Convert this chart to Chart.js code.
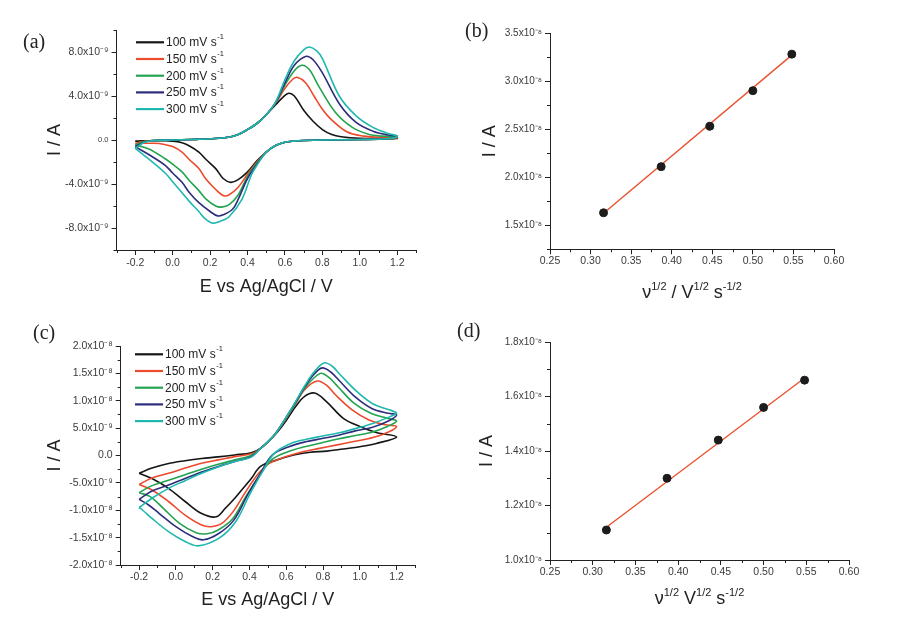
<!DOCTYPE html>
<html>
<head>
<meta charset="utf-8">
<script src="https://cdn.jsdelivr.net/npm/chart.js@4.4.1/dist/chart.umd.min.js"></script>
<style>
  body { margin: 0; background: #fff; }
  #wrap { position: relative; width: 908px; height: 622px; overflow: hidden; }
  canvas { position: absolute; }
  .plabel { position: absolute; font: 20px "Liberation Serif", "Times New Roman", serif; color: #222; line-height: 1; }
  .xtitle { position: absolute; font: 18px "Liberation Sans", Arial, sans-serif; color: #222; text-align: center; line-height: 22px; white-space: nowrap; }
  .xtitle sup { font-size: 11px; vertical-align: baseline; position: relative; top: -0.75em; }
</style>
</head>
<body>
<div id="wrap">
  <canvas id="cvA" width="454" height="311" style="left:0;top:0"></canvas>
  <canvas id="cvB" width="454" height="311" style="left:454px;top:0"></canvas>
  <canvas id="cvC" width="454" height="311" style="left:0;top:311px"></canvas>
  <canvas id="cvD" width="454" height="311" style="left:454px;top:311px"></canvas>
  <div class="plabel" style="left:23px;top:31px">(a)</div>
  <div class="plabel" style="left:465px;top:20px">(b)</div>
  <div class="plabel" style="left:33px;top:322px">(c)</div>
  <div class="plabel" style="left:457px;top:320px">(d)</div>
  <div class="xtitle" style="left:550px;width:284px;top:281px">&nu;<sup>1/2</sup> / V<sup>1/2</sup> s<sup>-1/2</sup></div>
  <div class="xtitle" style="left:550px;width:299px;top:587px">&nu;<sup>1/2</sup> V<sup>1/2</sup> s<sup>-1/2</sup></div>
</div>
<script>
// scan rates (legend)
const rates = ['100', '150', '200', '250', '300'];
const rateColors = ['#151515', '#ec4a2c', '#23a34f', '#2d2d7c', '#1fb8ae'];

// ---- panel (a): CV, potential in V, current in 1e-9 A ----
const aE100 = [-0.2,-0.15,-0.1,0.0,0.1,0.2,0.3,0.35,0.4,0.45,0.5,0.55,0.59,0.62,0.65,0.7,0.75,0.8,0.85,0.9,1.0,1.1,1.2, 1.15,1.0,0.8,0.7,0.65,0.6,0.55,0.5,0.45,0.4,0.35,0.31,0.27,0.23,0.18,0.14,0.09,0.05,0.0,-0.1,-0.2];
const aI100 = [-0.1,-0.08,-0.05,0.0,0.05,0.12,0.25,0.5,0.95,1.5,2.3,3.2,3.9,4.25,4.0,2.7,1.7,0.95,0.5,0.3,0.15,0.15,0.15, 0.1,0.05,0.0,-0.05,-0.1,-0.2,-0.5,-1.1,-1.9,-2.9,-3.6,-3.85,-3.5,-2.6,-1.8,-1.1,-0.55,-0.25,-0.1,-0.05,-0.1];
const aE150 = [-0.2,-0.15,-0.1,0.0,0.1,0.2,0.3,0.35,0.4,0.45,0.5,0.55,0.6,0.64,0.665,0.71,0.755,0.8,0.845,0.93,1.02,1.1,1.2, 1.15,1.0,0.8,0.7,0.65,0.6,0.55,0.5,0.45,0.4,0.35,0.3,0.27,0.23,0.18,0.14,0.09,0.05,0.0,-0.05,-0.1,-0.2];
const aI150 = [-0.3,-0.12,-0.05,0.0,0.05,0.12,0.25,0.5,0.95,1.5,2.3,3.35,4.7,5.5,5.7,5.2,4.0,2.8,1.9,0.75,0.35,0.25,0.2, 0.12,0.05,0.0,-0.05,-0.1,-0.2,-0.5,-1.1,-2.0,-3.1,-4.3,-5.0,-5.05,-4.5,-3.6,-2.6,-1.8,-1.1,-0.6,-0.38,-0.3,-0.3];
const aE200 = [-0.2,-0.15,-0.1,0.0,0.1,0.2,0.3,0.35,0.4,0.45,0.5,0.55,0.6,0.65,0.69,0.73,0.78,0.87,0.96,1.05,1.12,1.2, 1.15,1.0,0.8,0.7,0.65,0.6,0.55,0.5,0.45,0.4,0.35,0.3,0.26,0.23,0.18,0.14,0.09,0.05,0.0,-0.04,-0.13,-0.2];
const aI200 = [-0.45,-0.15,-0.05,0.0,0.05,0.12,0.25,0.5,0.95,1.5,2.3,3.4,5.0,6.3,6.8,6.4,4.9,2.5,1.15,0.5,0.35,0.25, 0.12,0.05,0.0,-0.05,-0.1,-0.2,-0.5,-1.1,-2.1,-3.3,-5.0,-5.9,-6.1,-6.0,-5.4,-4.6,-3.7,-2.9,-2.2,-1.7,-0.8,-0.45];
const aE250 = [-0.2,-0.15,-0.1,0.0,0.1,0.2,0.3,0.35,0.4,0.45,0.5,0.55,0.6,0.65,0.71,0.75,0.8,0.89,0.98,1.07,1.15,1.2, 1.15,1.0,0.8,0.7,0.65,0.6,0.55,0.5,0.45,0.4,0.35,0.32,0.27,0.24,0.2,0.14,0.09,0.05,0.0,-0.04,-0.13,-0.2];
const aI250 = [-0.6,-0.18,-0.05,0.0,0.05,0.12,0.25,0.5,0.95,1.5,2.3,3.4,5.2,6.8,7.6,7.3,6.1,3.3,1.6,0.8,0.45,0.35, 0.12,0.05,0.0,-0.05,-0.1,-0.2,-0.5,-1.1,-2.2,-3.5,-5.4,-6.3,-6.8,-6.9,-6.5,-5.7,-4.8,-3.85,-3.0,-2.3,-1.3,-0.6];
const aE300 = [-0.2,-0.15,-0.1,0.0,0.1,0.2,0.3,0.35,0.4,0.45,0.5,0.55,0.6,0.65,0.7,0.73,0.77,0.8,0.89,0.98,1.07,1.15,1.2, 1.15,1.0,0.8,0.7,0.65,0.6,0.55,0.5,0.45,0.42,0.37,0.3,0.25,0.21,0.17,0.14,0.09,0.05,0.0,-0.04,-0.13,-0.2];
const aI300 = [-0.75,-0.2,-0.05,0.0,0.05,0.12,0.25,0.5,0.95,1.5,2.3,3.45,5.5,7.2,8.2,8.45,8.1,7.4,4.0,2.2,1.15,0.6,0.35, 0.12,0.05,0.0,-0.05,-0.1,-0.2,-0.5,-1.1,-2.3,-3.2,-5.4,-7.0,-7.4,-7.55,-7.1,-6.5,-5.6,-4.8,-3.8,-3.0,-1.7,-0.75];

const aXTicks = [-0.2, 0.0, 0.2, 0.4, 0.6, 0.8, 1.0, 1.2];
const aXLabels = ['-0.2', '0.0', '0.2', '0.4', '0.6', '0.8', '1.0', '1.2'];
const aXMinor = [-0.3, -0.1, 0.1, 0.3, 0.5, 0.7, 0.9, 1.1, 1.3];
const aYTicks = [-8, -4, 0, 4, 8];
const aYLabels = ['-8.0x10⁻⁹', '-4.0x10⁻⁹', '0.0', '4.0x10⁻⁹', '8.0x10⁻⁹'];
const aYMinor = [-10, -6, -2, 2, 6, 10];

// ---- panel (b): peak current vs sqrt(scan rate), current in 1e-8 A ----
const bX = [0.316, 0.387, 0.447, 0.500, 0.548];
const bY = [1.63, 2.11, 2.53, 2.90, 3.28];
const bFitX = [0.316, 0.548];
const bFitY = [1.625, 3.27];
const bXTicks = [0.25, 0.30, 0.35, 0.40, 0.45, 0.50, 0.55, 0.60];
const bXLabels = ['0.25', '0.30', '0.35', '0.40', '0.45', '0.50', '0.55', '0.60'];
const bXMinor = [0.275, 0.325, 0.375, 0.425, 0.475, 0.525, 0.575];
const bYTicks = [1.5, 2.0, 2.5, 3.0, 3.5];
const bYLabels = ['1.5x10⁻⁸', '2.0x10⁻⁸', '2.5x10⁻⁸', '3.0x10⁻⁸', '3.5x10⁻⁸'];
const bYMinor = [1.25, 1.75, 2.25, 2.75, 3.25];

// ---- panel (c): CV, current in 1e-9 A ----
const cE100 = [-0.2,-0.13,-0.04,0.05,0.14,0.23,0.32,0.41,0.46,0.51,0.55,0.6,0.65,0.7,0.755,0.82,0.91,1.0,1.09,1.2, 1.09,1.0,0.91,0.82,0.73,0.64,0.55,0.46,0.41,0.36,0.32,0.27,0.22,0.14,0.05,-0.04,-0.13,-0.2];
const cI100 = [-3.25,-2.3,-1.45,-0.95,-0.55,-0.25,0.1,0.5,1.3,2.8,4.2,6.4,8.9,10.8,11.4,9.8,6.8,5.3,4.2,3.4, 2.2,1.6,1.2,0.8,0.6,0.1,-0.8,-2.0,-4.2,-6.2,-7.8,-9.6,-11.2,-10.6,-8.4,-6.0,-4.2,-3.25];
const cE150 = [-0.2,-0.13,-0.04,0.05,0.14,0.23,0.32,0.41,0.46,0.51,0.55,0.6,0.65,0.7,0.767,0.82,0.87,0.96,1.05,1.14,1.2, 1.14,1.05,0.96,0.87,0.78,0.69,0.6,0.51,0.45,0.38,0.31,0.25,0.19,0.14,0.05,-0.04,-0.13,-0.2];
const cI150 = [-5.3,-4.1,-3.25,-2.3,-1.4,-0.8,-0.2,0.3,1.3,2.8,4.4,6.8,9.4,12.0,13.6,12.8,11.0,8.3,6.5,5.6,5.3, 4.05,3.1,2.5,1.9,1.3,0.7,-0.2,-1.4,-3.25,-6.6,-10.3,-12.4,-13.0,-12.7,-10.9,-8.4,-6.3,-5.3];
const cE200 = [-0.2,-0.13,-0.04,0.05,0.14,0.23,0.32,0.41,0.46,0.51,0.55,0.6,0.65,0.7,0.785,0.83,0.88,0.97,1.06,1.15,1.2, 1.15,1.06,0.97,0.88,0.79,0.7,0.61,0.52,0.45,0.38,0.31,0.23,0.17,0.11,0.02,-0.07,-0.14,-0.2];
const cI200 = [-6.8,-5.5,-4.5,-3.5,-2.5,-1.6,-0.8,0.0,1.3,2.8,4.4,6.9,9.5,12.3,15.0,14.3,12.6,9.5,7.7,6.8,6.3, 5.3,4.2,3.6,3.0,2.3,1.6,0.7,-0.8,-3.9,-7.5,-11.5,-13.6,-14.3,-14.1,-12.4,-9.6,-7.5,-6.8];
const cE250 = [-0.2,-0.13,-0.04,0.05,0.14,0.23,0.32,0.41,0.46,0.51,0.55,0.6,0.65,0.7,0.75,0.795,0.84,0.885,0.975,1.065,1.155,1.2, 1.155,1.065,0.975,0.885,0.795,0.705,0.615,0.525,0.46,0.39,0.315,0.235,0.15,0.09,0.0,-0.09,-0.15,-0.2];
const cI250 = [-8.0,-6.5,-5.4,-4.2,-3.0,-2.0,-1.1,-0.2,1.3,2.8,4.4,7.0,9.7,12.5,14.8,16.0,15.3,13.8,10.7,8.6,7.7,7.4, 6.3,5.1,4.5,3.7,3.1,2.5,1.6,0.1,-3.25,-7.2,-11.8,-14.2,-15.4,-14.8,-13.0,-10.6,-9.0,-8.0];
const cE300 = [-0.2,-0.13,-0.04,0.05,0.14,0.23,0.32,0.41,0.46,0.51,0.55,0.6,0.65,0.7,0.75,0.805,0.85,0.895,0.985,1.075,1.165,1.2, 1.165,1.075,0.985,0.895,0.805,0.715,0.625,0.535,0.47,0.4,0.325,0.235,0.12,0.05,-0.04,-0.13,-0.18,-0.2];
const cI300 = [-9.5,-7.8,-6.0,-4.6,-3.25,-2.1,-1.1,-0.3,1.3,2.8,4.4,7.0,9.8,12.7,15.2,16.9,16.3,14.7,11.65,9.35,8.3,7.7, 7.1,5.9,5.0,4.2,3.6,3.0,2.2,0.4,-3.0,-7.2,-12.1,-15.1,-16.5,-15.7,-13.9,-11.5,-10.0,-9.5];

const cYTicks = [-20, -15, -10, -5, 0, 5, 10, 15, 20];
const cYLabels = ['-2.0x10⁻⁸', '-1.5x10⁻⁸', '-1.0x10⁻⁸', '-5.0x10⁻⁹', '0.0', '5.0x10⁻⁹', '1.0x10⁻⁸', '1.5x10⁻⁸', '2.0x10⁻⁸'];
const cYMinor = [-17.5, -12.5, -7.5, -2.5, 2.5, 7.5, 12.5, 17.5];

// ---- panel (d): current in 1e-8 A ----
const dX = [0.316, 0.387, 0.447, 0.500, 0.548];
const dY = [1.11, 1.30, 1.44, 1.56, 1.66];
const dFitX = [0.316, 0.548];
const dFitY = [1.12, 1.668];
const dYTicks = [1.0, 1.2, 1.4, 1.6, 1.8];
const dYLabels = ['1.0x10⁻⁸', '1.2x10⁻⁸', '1.4x10⁻⁸', '1.6x10⁻⁸', '1.8x10⁻⁸'];
const dYMinor = [1.1, 1.3, 1.5, 1.7];

const FONT = '"Liberation Sans", Arial, Helvetica, sans-serif';
const AXIS = '#222';
const TICKTXT = '#3a3a3a';

function pts(xs, ys) {
    return xs.map((x, i) => ({ x: x, y: ys[i] }));
}

// short minor tick marks on both axes
const minorTicks = {
    id: 'minorTicks',
    afterDraw(chart, args, opts) {
        const ctx = chart.ctx;
        const xs = chart.scales.x, ys = chart.scales.y;
        const area = chart.chartArea;
        ctx.save();
        ctx.strokeStyle = AXIS;
        ctx.lineWidth = 1;
        ctx.beginPath();
        (opts.x || []).forEach(v => {
            let px = Math.round(xs.getPixelForValue(v)) + 0.5;
            ctx.moveTo(px, area.bottom);
            ctx.lineTo(px, area.bottom + 3);
        });
        (opts.y || []).forEach(v => {
            let py = Math.round(ys.getPixelForValue(v)) + 0.5;
            ctx.moveTo(area.left, py);
            ctx.lineTo(area.left - 3, py);
        });
        ctx.stroke();
        ctx.restore();
    }
};

// legend drawn inside the plot, with a superscript -1
const rateLegend = {
    id: 'rateLegend',
    afterDatasetsDraw(chart, args, opts) {
        if (!opts.show) return;
        const ctx = chart.ctx;
        const area = chart.chartArea;
        ctx.save();
        ctx.textBaseline = 'middle';
        chart.data.datasets.forEach((ds, i) => {
            let x0 = area.left + opts.left;
            let y = area.top + opts.top + i * opts.gap;
            ctx.strokeStyle = ds.borderColor;
            ctx.lineWidth = 2.2;
            ctx.beginPath();
            ctx.moveTo(x0, y);
            ctx.lineTo(x0 + 28, y);
            ctx.stroke();
            ctx.fillStyle = '#222';
            ctx.font = '12px ' + FONT;
            ctx.fillText(ds.label, x0 + 30, y + 0.5);
            let w = ctx.measureText(ds.label).width;
            ctx.font = '7.5px ' + FONT;
            ctx.fillText('-1', x0 + 30 + w + 0.5, y - 5);
        });
        ctx.restore();
    }
};

function axis(opts) {
    return {
        type: 'linear',
        min: opts.min,
        max: opts.max,
        afterBuildTicks: (scale) => { scale.ticks = opts.ticks.map(v => ({ value: v })); },
        afterFit: (scale) => {
            if (opts.width) scale.width = opts.width;
            if (opts.height) scale.height = opts.height;
            scale.paddingLeft = 0; scale.paddingRight = 0;
            scale.paddingTop = 0; scale.paddingBottom = 0;
        },
        grid: { display: true, drawOnChartArea: false, drawTicks: true, tickLength: 5, color: AXIS, tickColor: AXIS },
        border: { display: true, color: AXIS, width: 1 },
        ticks: {
            autoSkip: false,
            maxRotation: 0,
            padding: opts.pad,
            color: TICKTXT,
            font: opts.font || { size: 10.5, family: FONT },
            callback: (value, index) => opts.labels[index]
        },
        title: opts.title ? {
            display: true,
            text: opts.title,
            color: AXIS,
            font: { size: 18, family: FONT },
            padding: opts.titlePad
        } : { display: false }
    };
}

function cvChart(id, E, I, cfg) {
    const datasets = rates.map((r, i) => ({
        label: r + ' mV s',
        data: pts(E[i], I[i]),
        showLine: true,
        borderColor: rateColors[i],
        backgroundColor: rateColors[i],
        borderWidth: 1.6,
        pointRadius: 0,
        tension: 0.35,
        order: 5 - i
    }));
    return new Chart(document.getElementById(id), {
        type: 'scatter',
        data: { datasets: datasets },
        options: {
            responsive: false,
            animation: false,
            devicePixelRatio: 1,
            layout: { padding: cfg.padding },
            plugins: {
                legend: { display: false },
                tooltip: { enabled: false },
                minorTicks: { x: aXMinor, y: cfg.yMinor },
                rateLegend: { show: true, left: cfg.legLeft, top: cfg.legTop, gap: 16.7 }
            },
            scales: {
                x: axis({ min: -0.3, max: 1.3, ticks: aXTicks, labels: aXLabels, pad: cfg.xPad,
                          height: cfg.xH, title: 'E vs Ag/AgCl / V', titlePad: { top: 0, bottom: cfg.xTitlePad } }),
                y: axis({ min: cfg.yMin, max: cfg.yMax, ticks: cfg.yTicks, labels: cfg.yLabels, pad: 3,
                          width: cfg.yW, title: 'I / A', titlePad: { top: cfg.yTitlePad, bottom: 0 },
                          font: cfg.yFont })
            }
        },
        plugins: [minorTicks, rateLegend]
    });
}

function fitChart(id, X, Y, FX, FY, cfg) {
    return new Chart(document.getElementById(id), {
        type: 'scatter',
        data: {
            datasets: [{
                label: 'points',
                data: pts(X, Y),
                pointRadius: 4,
                pointBackgroundColor: '#1c1c1c',
                pointBorderColor: '#1c1c1c',
                order: 0
            }, {
                label: 'fit',
                data: pts(FX, FY),
                showLine: true,
                borderColor: '#e9532f',
                borderWidth: 1.4,
                pointRadius: 0,
                order: 1
            }]
        },
        options: {
            responsive: false,
            animation: false,
            devicePixelRatio: 1,
            layout: { padding: cfg.padding },
            plugins: {
                legend: { display: false },
                tooltip: { enabled: false },
                minorTicks: { x: bXMinor, y: cfg.yMinor },
                rateLegend: { show: false }
            },
            scales: {
                x: axis({ min: 0.25, max: 0.60, ticks: bXTicks, labels: bXLabels, pad: cfg.xPad, height: cfg.xH }),
                y: axis({ min: cfg.yMin, max: cfg.yMax, ticks: cfg.yTicks, labels: cfg.yLabels, pad: 3,
                          width: cfg.yW, title: 'I / A', titlePad: { top: cfg.yTitlePad, bottom: 0 },
                          font: { size: 10, family: FONT } })
            }
        },
        plugins: [minorTicks, rateLegend]
    });
}

cvChart('cvA', [aE100, aE150, aE200, aE250, aE300], [aI100, aI150, aI200, aI250, aI300], {
    padding: { top: 30, right: 38, left: 0, bottom: 0 },
    yW: 116.5, xH: 61, xPad: 2, xTitlePad: 13, yTitlePad: 44,
    yMin: -10, yMax: 10, yTicks: aYTicks, yLabels: aYLabels, yMinor: aYMinor,
    yFont: (ctx) => ({ size: (ctx.tick && ctx.tick.value === 0) ? 7.5 : 10.5, family: FONT }),
    legLeft: 19.5, legTop: 12.3
});

fitChart('cvB', bX, bY, bFitX, bFitY, {
    padding: { top: 33, right: 74, left: 0, bottom: 0 },
    yW: 96, xH: 61.7, xPad: 1, yTitlePad: 25,
    yMin: 1.25, yMax: 3.5, yTicks: bYTicks, yLabels: bYLabels, yMinor: bYMinor
});

cvChart('cvC', [cE100, cE150, cE200, cE250, cE300], [cI100, cI150, cI200, cI250, cI300], {
    padding: { top: 35, right: 39, left: 0, bottom: 0 },
    yW: 120.7, xH: 57, xPad: 1, xTitlePad: 11, yTitlePad: 44,
    yMin: -20, yMax: 20, yTicks: cYTicks, yLabels: cYLabels, yMinor: cYMinor,
    legLeft: 14.3, legTop: 8.3
});

fitChart('cvD', dX, dY, dFitX, dFitY, {
    padding: { top: 31, right: 59, left: 0, bottom: 0 },
    yW: 96, xH: 62, xPad: 0.5, yTitlePad: 22.5,
    yMin: 1.0, yMax: 1.8, yTicks: dYTicks, yLabels: dYLabels, yMinor: dYMinor
});
</script>
</body>
</html>
